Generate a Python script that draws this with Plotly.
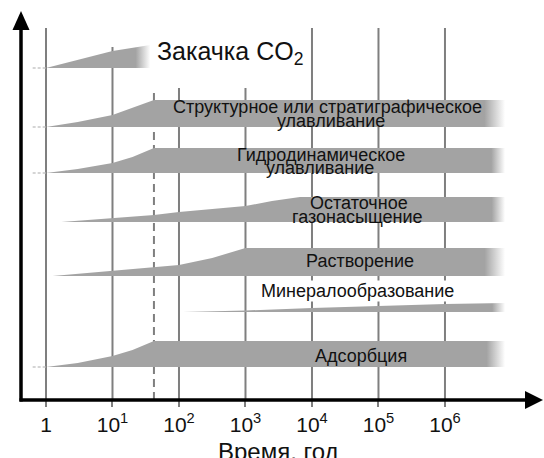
import math
import plotly.graph_objects as go

# ---------------- data ----------------
tick_vals = [1, 10, 100, 1000, 1e4, 1e5, 1e6]
tick_text = ["1", "10<sup>1</sup>", "10<sup>2</sup>", "10<sup>3</sup>",
             "10<sup>4</sup>", "10<sup>5</sup>", "10<sup>6</sup>"]
grid_tops = [372, 353, 312, 312, 372, 372, 372]
injection_end_year = 42
injection_line_top = 312

band_names = ["Закачка CO2", "Структурное или стратиграфическое улавливание",
              "Гидродинамическое улавливание", "Остаточное газонасыщение",
              "Растворение", "Минералообразование", "Адсорбция"]
band_base = [332, 273, 227, 178, 124, 88, 33]
band_years = [
    [1, 3, 10, 37],
    [1, 3, 10, 20, 42, 8e6],
    [1, 3, 10, 20, 42, 8e6],
    [1.7, 10, 42, 100, 1000, 2500, 6600, 8e6],
    [1.26, 10, 42, 100, 316, 1000, 8e6],
    [115, 1000, 1e4, 1e5, 1e6, 8e6],
    [1, 3, 10, 20, 42, 8e6],
]
band_thick = [
    [0, 8, 17, 23],
    [0, 5, 12, 19, 27, 27],
    [0, 4, 10, 16, 25, 25],
    [0, 4, 7, 10, 16, 21, 25, 25],
    [0, 5, 9, 11, 18, 28, 28],
    [0, 1.5, 4, 6, 8, 9],
    [0, 4, 11, 17, 26, 26],
]
band_fade_start = [0.86, 0.955, 0.97, 0.97, 0.955, 0.96, 0.96]
tail_bands = [0, 1, 2, 6]
tail_years = [0.63, 1]

# ---------------- styling ----------------
BAND = "#a3a3a3"
GRID = "#7f7f7f"
FONT = "Liberation Sans, Arial, sans-serif"

L, R, T, B = 19, 2, 12, 58
W, H = 544, 458
PW, PH = W - L - R, H - T - B


def px_x(p):
    return (p - L) / PW


def px_y(p):
    return (H - B - p) / PH


fig = go.Figure()

# bands
for i, name in enumerate(band_names):
    xs = band_years[i]
    top = [band_base[i] + t for t in band_thick[i]]
    base = [band_base[i]] * len(xs)
    f = band_fade_start[i]
    fig.add_trace(go.Scatter(
        x=xs + xs[::-1], y=top + base[::-1],
        fill="toself", mode="lines", line=dict(width=0, color=BAND),
        fillcolor=BAND,
        fillgradient=dict(type="horizontal",
                          colorscale=[[0, BAND], [f, BAND], [1, "#ffffff"]]),
        hoverinfo="skip", showlegend=False, name=name))

# short dashed tails left of the band starts
for i in tail_bands:
    fig.add_trace(go.Scatter(
        x=tail_years, y=[band_base[i]] * 2, mode="lines",
        line=dict(color="#c8c8c8", width=1.5, dash="3px,2px"),
        hoverinfo="skip", showlegend=False))

shapes = []
# vertical grid lines
for xv, top in zip(tick_vals, grid_tops):
    shapes.append(dict(type="line", xref="x", yref="y", x0=xv, x1=xv,
                       y0=0, y1=top, layer="below",
                       line=dict(color=GRID, width=2)))
# end of injection
shapes.append(dict(type="line", xref="x", yref="y",
                   x0=injection_end_year, x1=injection_end_year,
                   y0=0, y1=injection_line_top, layer="below",
                   line=dict(color=GRID, width=2, dash="8px,5px")))

# axes with arrows (paper coords)
shapes.append(dict(type="line", xref="paper", yref="paper",
                   x0=px_x(21), x1=px_x(21), y0=px_y(401.5), y1=px_y(28),
                   line=dict(color="black", width=3.5)))
shapes.append(dict(type="path", xref="paper", yref="paper",
                   path=f"M {px_x(21)} {px_y(11)} L {px_x(12.5)} {px_y(30)} "
                        f"L {px_x(29.5)} {px_y(30)} Z",
                   fillcolor="black", line=dict(width=0)))
shapes.append(dict(type="line", xref="paper", yref="paper",
                   x0=px_x(19.5), x1=px_x(527), y0=px_y(400), y1=px_y(400),
                   line=dict(color="black", width=3.5)))
shapes.append(dict(type="path", xref="paper", yref="paper",
                   path=f"M {px_x(543)} {px_y(400)} L {px_x(525)} {px_y(391)} "
                        f"L {px_x(525)} {px_y(409)} Z",
                   fillcolor="black", line=dict(width=0)))

# labels
labels = [
    ("Структурное или стратиграфическое", 4.24, 293, None),
    ("улавливание", 4.29, 279, None),
    ("Гидродинамическое", 4.14, 245, None),
    ("улавливание", 4.12, 232, None),
    ("Остаточное", 4.71, 197, None),
    ("газонасыщение", 4.69, 183, None),
    ("Растворение", 4.72, 139, None),
    ("Минералообразование", 4.69, 109, "white"),
    ("Адсорбция", 4.74, 44, None),
]
annotations = []
for text, lx, ly, bg in labels:
    a = dict(text=text, x=lx, y=ly, xref="x", yref="y", showarrow=False,
             xanchor="center", yanchor="middle",
             font=dict(family=FONT, size=18, color="#111111"))
    if bg:
        a["bgcolor"] = bg
        a["borderpad"] = 0
    annotations.append(a)

annotations.append(dict(text="Закачка CO<sub>2</sub>", x=1.639, y=347,
                        xref="x", yref="y", showarrow=False,
                        xanchor="left", yanchor="middle",
                        font=dict(family=FONT, size=25, color="#111111")))
annotations.append(dict(text="Время, год", x=px_x(278), y=px_y(451),
                        xref="paper", yref="paper", showarrow=False,
                        xanchor="center", yanchor="middle",
                        font=dict(family=FONT, size=24, color="#111111")))

fig.update_layout(
    width=W, height=H,
    margin=dict(l=L, r=R, t=T, b=B, pad=0),
    paper_bgcolor="white", plot_bgcolor="white",
    shapes=shapes, annotations=annotations,
    xaxis=dict(type="log", range=[-0.406, 7.459], showgrid=False,
               zeroline=False, showline=False, ticks="outside", ticklen=6,
               tickwidth=2, tickcolor=GRID, tickvals=tick_vals,
               ticktext=tick_text, fixedrange=True,
               tickfont=dict(family=FONT, size=21, color="#111111")),
    yaxis=dict(range=[0, 388], visible=False, fixedrange=True),
)

fig.write_html(
    "out.html",
    config={"displayModeBar": False},
    post_script="document.body.style.margin='0';"
                "document.body.style.overflow='hidden';",
)
